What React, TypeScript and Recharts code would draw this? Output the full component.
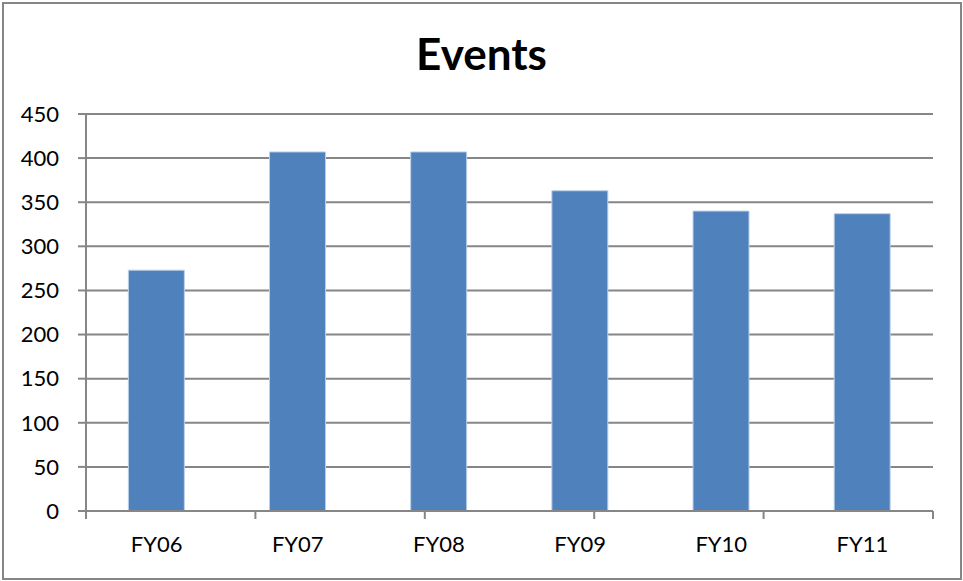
import { BarChart, Bar, XAxis, YAxis, CartesianGrid } from "recharts";

const categories = ["FY06", "FY07", "FY08", "FY09", "FY10", "FY11"];
const events = [273, 407, 407, 363, 340, 337];
const yTicks = [0, 50, 100, 150, 200, 250, 300, 350, 400, 450];
const boundaryTicks = [0, 1, 2, 3, 4, 5, 6];

const data = categories.map((name, i) => ({ name, events: events[i] }));

const AXIS = "#868686";
const FONT = "Lato, 'Open Sans', sans-serif";

export default function App() {
  return (
    <div
      style={{
        position: "fixed",
        left: 0,
        top: 0,
        width: 963,
        height: 581,
        background: "#fff",
        fontFamily: FONT,
      }}
    >
      <div
        style={{
          position: "absolute",
          left: 2,
          top: 2,
          width: 956,
          height: 574,
          border: `2px solid ${AXIS}`,
          boxSizing: "content-box",
        }}
      />
      <div
        style={{
          position: "absolute",
          left: 0,
          top: 25,
          width: 963,
          textAlign: "center",
          fontSize: 44,
          fontWeight: 700,
          lineHeight: "56px",
          color: "#000",
        }}
      >
        Events
      </div>
      <div style={{ position: "absolute", left: 0, top: 0 }}>
        <BarChart
          width={963}
          height={581}
          data={data}
          margin={{ top: 114, right: 30, bottom: 0, left: 0 }}
          barCategoryGap="30%"
        >
          <CartesianGrid
            vertical={false}
            stroke={AXIS}
            strokeWidth={2}
            horizontalValues={yTicks}
          />
          <XAxis
            dataKey="name"
            xAxisId="b"
            height={69}
            axisLine={false}
            tickLine={false}
            tickSize={0}
            tickMargin={24}
            interval={0}
            tick={{ fill: "#000", fontSize: 22, fontFamily: FONT }}
          />
          <XAxis
            xAxisId="a"
            type="number"
            domain={[0, 6]}
            ticks={boundaryTicks}
            height={1}
            axisLine={{ stroke: AXIS, strokeWidth: 2 }}
            tickLine={{ stroke: AXIS, strokeWidth: 2 }}
            tickSize={8}
            tickFormatter={() => ""}
            allowDataOverflow
          />
          <YAxis
            width={86}
            domain={[0, 450]}
            ticks={yTicks}
            interval={0}
            axisLine={{ stroke: AXIS, strokeWidth: 2 }}
            tickLine={{ stroke: AXIS, strokeWidth: 2 }}
            tickSize={8}
            tickMargin={19}
            tick={{ fill: "#000", fontSize: 22, fontFamily: FONT }}
          />
          <Bar
            dataKey="events"
            xAxisId="b"
            fill="#4F81BD"
            stroke="#bcd0e8"
            strokeWidth={1}
            isAnimationActive={false}
          />
        </BarChart>
      </div>
    </div>
  );
}
